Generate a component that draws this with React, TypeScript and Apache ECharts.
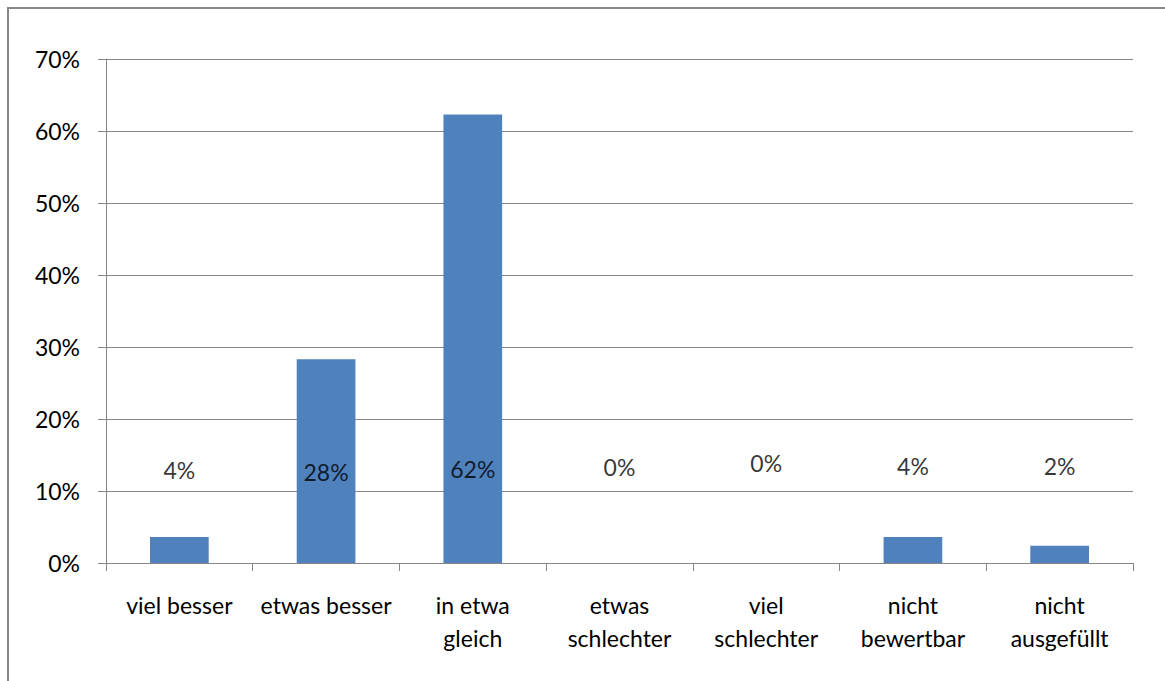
import React, { useEffect, useRef } from "react";
import * as echarts from "echarts";

const categories = [
  "viel besser",
  "etwas besser",
  "in etwa\ngleich",
  "etwas\nschlechter",
  "viel\nschlechter",
  "nicht\nbewertbar",
  "nicht\nausgefüllt",
];
const values = [3.6, 28.3, 62.3, 0, 0, 3.6, 2.4];
const valueLabels = ["4%", "28%", "62%", "0%", "0%", "4%", "2%"];
const labelLevels = [12.9, 12.6, 13.0, 13.3, 13.9, 13.5, 13.5];
const yTicks = [0, 10, 20, 30, 40, 50, 60, 70];

const FONT = "Lato, 'Open Sans', sans-serif";
const GRAY = "#868686";

export default function App() {
  const ref = useRef<HTMLDivElement>(null);
  useEffect(() => {
    document.body.style.margin = "0";
    document.body.style.overflow = "hidden";
    const chart = echarts.init(ref.current!, null, { renderer: "svg" });
    chart.setOption({
      animation: false,
      backgroundColor: "#ffffff",
      grid: { left: 97, right: 36, top: 50, bottom: 127 },
      xAxis: {
        type: "category",
        data: categories,
        axisLine: { lineStyle: { color: GRAY, width: 1 } },
        axisTick: { show: true, length: 8, lineStyle: { color: GRAY } },
        axisLabel: {
          interval: 0,
          color: "#000",
          fontFamily: FONT,
          fontSize: 23,
          lineHeight: 33,
          margin: 25,
        },
      },
      yAxis: {
        type: "value",
        min: yTicks[0],
        max: yTicks[yTicks.length - 1],
        interval: 10,
        axisLine: { show: true, lineStyle: { color: GRAY, width: 1 } },
        axisTick: { show: true, length: 8, lineStyle: { color: GRAY } },
        splitLine: { lineStyle: { color: GRAY, width: 1 } },
        axisLabel: {
          color: "#000",
          fontFamily: FONT,
          fontSize: 23,
          margin: 26,
          formatter: (v: number) => v + "%",
        },
      },
      series: [
        {
          type: "bar",
          data: values,
          barWidth: "40%",
          itemStyle: { color: "#4F81BD" },
        },
        {
          type: "scatter",
          data: labelLevels,
          symbolSize: 0,
          silent: true,
          label: {
            show: true,
            position: "inside",
            color: "#000",
            fontFamily: FONT,
            fontSize: 23,
            formatter: (p: any) => valueLabels[p.dataIndex],
          },
        },
      ],
    });
    return () => chart.dispose();
  }, []);
  return (
    <div style={{ width: 1165, height: 681, overflow: "hidden", position: "relative", background: "#fff" }}>
      <div
        style={{
          position: "absolute",
          left: 7,
          top: 7,
          width: 1170,
          height: 690,
          borderLeft: "2px solid #888",
          borderTop: "2px solid #888",
          boxSizing: "border-box",
        }}
      >
        <div ref={ref} style={{ width: 1160, height: 681 }} />
      </div>
    </div>
  );
}
